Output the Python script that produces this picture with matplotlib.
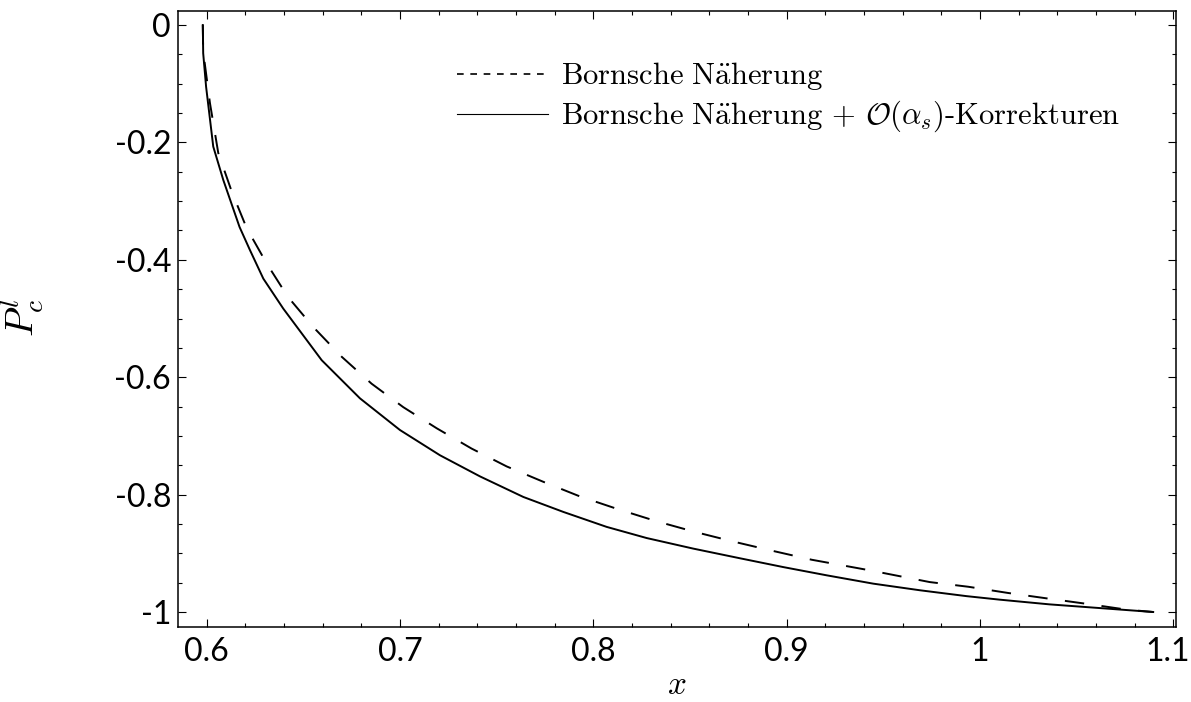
import matplotlib.pyplot as plt
import matplotlib.transforms as mtransforms
from matplotlib.lines import Line2D
from matplotlib.ticker import MultipleLocator

plt.rcParams['mathtext.fontset'] = 'cm'

# Bornsche Naeherung (gestrichelt)
x_born = [0.598, 0.5982, 0.6017, 0.606, 0.613, 0.6207, 0.631, 0.642, 0.655, 0.6698,
          0.6853, 0.7017, 0.719, 0.737, 0.7552, 0.774, 0.793, 0.8129, 0.8328,
          0.8526, 0.8724, 0.893, 0.913, 0.943, 0.974, 0.994, 1.0146, 1.035,
          1.055, 1.0759, 1.0896]
p_born = [0.0, -0.045, -0.133, -0.218, -0.284, -0.346, -0.406, -0.463, -0.514, -0.565,
          -0.611, -0.651, -0.687, -0.7215, -0.752, -0.778, -0.803, -0.825, -0.8455,
          -0.8636, -0.880, -0.896, -0.911, -0.929, -0.949, -0.957, -0.9676, -0.977,
          -0.986, -0.996, -1.0]

# Bornsche Naeherung + O(alpha_s)-Korrekturen (durchgezogen)
x_nlo = [0.598, 0.5982, 0.5997, 0.6034, 0.6086, 0.617, 0.6224, 0.6293, 0.6396, 0.6595,
         0.6793, 0.70, 0.7207, 0.7414, 0.7638, 0.7845, 0.8069, 0.8276, 0.8517,
         0.8759, 0.8983, 0.9207, 0.9448, 0.969, 0.9931, 1.0103, 1.036, 1.0896]
p_nlo = [0.0, -0.048, -0.105, -0.207, -0.264, -0.344, -0.3835, -0.432, -0.483, -0.571,
         -0.636, -0.690, -0.733, -0.769, -0.804, -0.8295, -0.855, -0.874, -0.892,
         -0.9085, -0.9235, -0.9375, -0.9517, -0.963, -0.973, -0.979, -0.987, -1.0]

xticks = [0.6, 0.7, 0.8, 0.9, 1.0, 1.1]
xlabels = ['0.6', '0.7', '0.8', '0.9', '1', '1.1']
yticks = [0, -0.2, -0.4, -0.6, -0.8, -1.0]
ylabels = ['0', '-0.2', '-0.4', '-0.6', '-0.8', '-1']

fig = plt.figure(figsize=(11.91, 7.02), dpi=100)
ax = fig.add_axes([0.1495, 0.1068, 0.8379, 0.8775])

ax.plot(x_born, p_born, color='black', lw=1.4, dashes=(10, 9))
ax.plot(x_nlo, p_nlo, color='black', lw=1.4)

ax.set_xlim(0.5852, 1.1014)
ax.set_ylim(-1.0256, 0.0239)

tick_font = dict(fontfamily='Lato', fontsize=23)
ax.set_xticks(xticks)
ax.set_xticklabels(xlabels, **tick_font)
ax.set_yticks(yticks)
ax.set_yticklabels(ylabels, **tick_font)
ax.xaxis.set_minor_locator(MultipleLocator(0.02))
ax.yaxis.set_minor_locator(MultipleLocator(0.05))
ax.tick_params(which='both', direction='in', top=True, right=True, width=0.8)
ax.tick_params(which='major', length=5.5)
ax.tick_params(which='minor', length=3)
ax.tick_params(axis='x', pad=7)
ax.tick_params(axis='y', pad=5)
for s in ax.spines.values():
    s.set_linewidth(1.1)

# "1.1" etwas nach links, damit es nicht am Rand abgeschnitten wird
last = ax.get_xticklabels()[-1]
last.set_transform(last.get_transform() +
                   mtransforms.ScaledTranslation(-6 / 100, 0, fig.dpi_scale_trans))

ax.set_xlabel(r'$x$', fontsize=24, labelpad=1)
ax.set_ylabel(r'$P_c^l$', fontsize=28)
ax.yaxis.set_label_coords(-0.132, 0.502)

handles = [Line2D([], [], color='black', lw=1.2, dashes=(4, 4)),
           Line2D([], [], color='black', lw=0.8)]
labels = [r'$\mathrm{Bornsche\ N\ddot{a}herung}$',
          r'$\mathrm{Bornsche\ N\ddot{a}herung}\,+\,\mathcal{O}(\alpha_s)\mathrm{\text{-}Korrekturen}$']
ax.legend(handles, labels, loc='upper left', bbox_to_anchor=(0.28, 0.92),
          frameon=False, fontsize=22, handlelength=2.95, handletextpad=0.45,
          labelspacing=0.22, borderpad=0, borderaxespad=0)

plt.savefig('out.png', dpi=100)
